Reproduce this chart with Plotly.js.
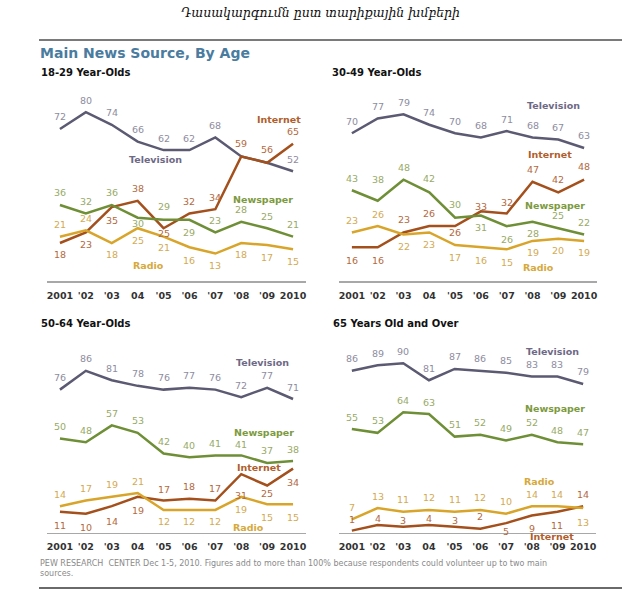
<!DOCTYPE html>
<html>
<head>
<meta charset="utf-8">
<script src="https://cdn.plot.ly/plotly-3.0.1.min.js"></script>
<style>html,body{margin:0;padding:0;background:#fff;}#chart{width:641px;height:600px;}</style>
</head>
<body>
<div id="chart"></div>
<script>
// ---- data ----
var years = ["2001", "'02", "'03", "04", "'05", "'06", "'07", "'08", "'09", "2010"];
var seriesNames = ["Television", "Internet", "Newspaper", "Radio"];
var panelTitles = ["18-29 Year-Olds", "30-49 Year-Olds", "50-64 Year-Olds", "65 Years Old and Over"];

var tv1 = [72, 80, 74, 66, 62, 62, 68, 59, 56, 52];
var net1 = [18, 23, 35, 38, 25, 32, 34, 59, 56, 65];
var news1 = [36, 32, 36, 30, 29, 29, 23, 28, 25, 21];
var radio1 = [21, 24, 18, 25, 21, 16, 13, 18, 17, 15];

var tv2 = [70, 77, 79, 74, 70, 68, 71, 68, 67, 63];
var net2 = [16, 16, 23, 26, 26, 33, 32, 47, 42, 48];
var news2 = [43, 38, 48, 42, 30, 31, 26, 28, 25, 22];
var radio2 = [23, 26, 22, 23, 17, 16, 15, 19, 20, 19];

var tv3 = [76, 86, 81, 78, 76, 77, 76, 72, 77, 71];
var net3 = [11, 10, 14, 19, 17, 18, 17, 31, 25, 34];
var news3 = [50, 48, 57, 53, 42, 40, 41, 41, 37, 38];
var radio3 = [14, 17, 19, 21, 12, 12, 12, 19, 15, 15];

var tv4 = [86, 89, 90, 81, 87, 86, 85, 83, 83, 79];
var net4 = [1, 4, 3, 4, 3, 2, 5, 9, 11, 14];
var news4 = [55, 53, 64, 63, 51, 52, 49, 52, 48, 47];
var radio4 = [7, 13, 11, 12, 11, 12, 10, 14, 14, 13];

var footnote = "PEW RESEARCH  CENTER Dec 1-5, 2010. Figures add to more than 100% because respondents could volunteer up to two main<br>sources.";

// ---- label placement (pixels above(+)/below(-) the point, 0 = no label) ----
var offTv1 = [12, 12, 12, 12, 12, 12, 12, 0, 0, 12];
var offNet1 = [-12, -12, -13, 12, -5, 12, 12, 13, 13, 12];
var offNews1 = [12, 12, 12, -6, 13, -13, 12, 12, 12, 12];
var offRadio1 = [12, 12, -12, -12, -11, -13, -12, -12, -12, -12];

var offTv2 = [12, 12, 12, 12, 12, 12, 12, 12, 12, 12];
var offNet2 = [-13, -13, 13, 13, -6, 5, 11, 12, 13, 13];
var offNews2 = [12, 21, 12, 14, 13, -12, -13, -12, 13, 12];
var offRadio2 = [12, 12, -12, -12, -12, -13, -13, -12, -12, -12];

var offTv3 = [12, 12, 12, 12, 12, 12, 12, 12, 12, 12];
var offNet3 = [-14, -14, -15, -14, 11, 12, 12, -21, -8, -14];
var offNews3 = [12, 12, 12, 12, 12, 12, 12, 11, 12, 12];
var offRadio3 = [12, 12, 12, 12, -12, -12, -12, -13, -13, -13];

var offTv4 = [12, 12, 12, 12, 12, 12, 12, 12, 12, 12];
var offNet4 = [11, 6, 6, 6, 6, 12, -8, -13, -14, 12];
var offNews4 = [12, 12, 12, 12, 12, 12, 12, 12, 12, 12];
var offRadio4 = [12, 12, 12, 12, 12, 12, 12, 12, 12, -14];

// ---- styling ----
var W = 641, H = 600;
var lineColors = {"Television": "#5b5a72", "Internet": "#a4501c", "Newspaper": "#6e8f36", "Radio": "#d8a52a"};
var labelColors = {"Television": "#8e8ca0", "Internet": "#b3693e", "Newspaper": "#98aa66", "Radio": "#d3aa52"};
var nameColors = {"Television": "#6e6a86", "Internet": "#b05e2c", "Newspaper": "#7c9a3e", "Radio": "#d6a93a"};
var F = "DejaVu Sans, Verdana, sans-serif";

var panels = [
  {ax: "", data: [tv1, net1, news1, radio1], offs: [offTv1, offNet1, offNews1, offRadio1],
   xpx: [47, 306], ypx: [281, 91], yr: 90, title: [39, 72],
   names: [[155, 159], [279, 119], [263, 200], [148, 265]]},
  {ax: "2", data: [tv2, net2, news2, radio2], offs: [offTv2, offNet2, offNews2, offRadio2],
   xpx: [339, 597], ypx: [281, 91], yr: 90, title: [330, 72],
   names: [[553, 106], [550, 155], [555, 206], [538, 267]]},
  {ax: "3", data: [tv3, net3, news3, radio3], offs: [offTv3, offNet3, offNews3, offRadio3],
   xpx: [47, 306], ypx: [532.5, 353.9], yr: 95, title: [39, 323],
   names: [[262, 362], [259, 467], [264, 432], [248, 527]]},
  {ax: "4", data: [tv4, net4, news4, radio4], offs: [offTv4, offNet4, offNews4, offRadio4],
   xpx: [339, 596], ypx: [532.5, 353.9], yr: 95, title: [331, 323],
   names: [[552, 351], [552, 536], [555, 408], [539, 481]]}
];

var traces = [];
var annotations = [];
var layout = {
  width: W, height: H,
  margin: {l: 0, r: 0, t: 0, b: 0},
  paper_bgcolor: "#ffffff", plot_bgcolor: "#ffffff",
  showlegend: false,
  hovermode: false,
  shapes: [
    {type: "line", xref: "paper", yref: "paper", x0: 39 / W, x1: 622 / W, y0: 1 - 40 / H, y1: 1 - 40 / H,
     line: {color: "#7a7a7a", width: 2}},
    {type: "line", xref: "paper", yref: "paper", x0: 39 / W, x1: 622 / W, y0: 1 - 588 / H, y1: 1 - 588 / H,
     line: {color: "#6a6a6a", width: 2}}
  ]
};

function px(x, y) { return {x: x / W, y: 1 - y / H}; }

annotations.push({xref: "paper", yref: "paper", x: 320 / W, y: 1 - 12 / H, xanchor: "center", yanchor: "middle",
  text: "Դասակարգումն ըստ տարիքային խմբերի", showarrow: false,
  font: {family: "DejaVu Serif, serif", size: 12.5, color: "#111", style: "italic"}});
annotations.push({xref: "paper", yref: "paper", x: 38 / W, y: 1 - 53 / H, xanchor: "left", yanchor: "middle",
  text: "<b>Main News Source, By Age</b>", showarrow: false,
  font: {family: F, size: 14, color: "#4a7ca0"}});
annotations.push({xref: "paper", yref: "paper", x: 38 / W, y: 1 - 568 / H, xanchor: "left", yanchor: "middle",
  text: footnote, showarrow: false, align: "left",
  font: {family: F, size: 8, color: "#8a8a8a"}});

panels.forEach(function (p, pi) {
  var xa = "xaxis" + p.ax, ya = "yaxis" + p.ax;
  var xr = "x" + p.ax, yr = "y" + p.ax;
  layout[xa] = {
    domain: [p.xpx[0] / W, p.xpx[1] / W], anchor: yr,
    type: "category", range: [-0.5, 9.5], fixedrange: true,
    showline: true, linecolor: "#a8a8a8", linewidth: 1.5,
    showgrid: false, zeroline: false, ticks: "",
    ticklabelstandoff: 5,
    tickfont: {family: F, size: 9.5, color: "#333333", weight: "bold"}
  };
  layout[ya] = {
    domain: [1 - p.ypx[0] / H, 1 - p.ypx[1] / H], anchor: xr,
    range: [0, p.yr], fixedrange: true,
    visible: false, showgrid: false, zeroline: false
  };
  annotations.push({xref: "paper", yref: "paper", x: px(p.title[0], p.title[1]).x, y: px(p.title[0], p.title[1]).y,
    xanchor: "left", yanchor: "middle", text: "<b>" + panelTitles[pi] + "</b>", showarrow: false,
    font: {family: F, size: 10, color: "#111111"}});
  seriesNames.forEach(function (name, si) {
    var vals = p.data[si];
    traces.push({
      type: "scatter", mode: "lines", x: years, y: vals, xaxis: xr, yaxis: yr,
      line: {color: lineColors[name], width: 2.5}, name: name, hoverinfo: "skip"
    });
    vals.forEach(function (v, i) {
      var o = p.offs[si][i];
      if (o === 0) return;
      // category axis: annotation x given as the category index
      annotations.push({xref: xr, yref: yr, x: i, y: v, yshift: o,
        text: String(v), showarrow: false, xanchor: "center", yanchor: "middle",
        font: {family: F, size: 9.5, color: labelColors[name]}});
    });
    var q = px(p.names[si][0], p.names[si][1]);
    annotations.push({xref: "paper", yref: "paper", x: q.x, y: q.y, xanchor: "center", yanchor: "middle",
      text: "<b>" + name + "</b>", showarrow: false,
      font: {family: F, size: 9.5, color: nameColors[name]}});
  });
});

layout.annotations = annotations;
Plotly.newPlot("chart", traces, layout, {staticPlot: true, displayModeBar: false});
</script>
</body>
</html>
